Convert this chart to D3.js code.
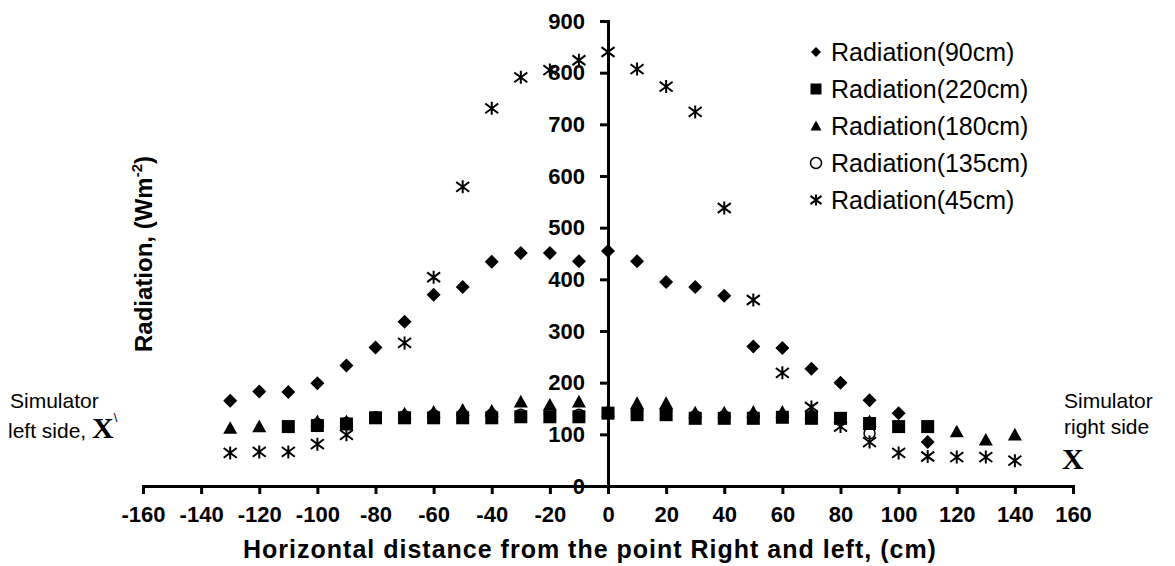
<!DOCTYPE html>
<html>
<head>
<meta charset="utf-8">
<script src="https://cdn.jsdelivr.net/npm/d3@7"></script>
<style>
  body { margin: 0; background: #fff; }
  svg { display: block; font-family: Arial, "Liberation Sans", sans-serif; }
  .axis path, .axis line { stroke: #000; stroke-width: 3; }
  .axis text { font-size: 22px; font-weight: bold; fill: #000; }
</style>
</head>
<body>
<svg id="chart" width="1175" height="566"></svg>
<script>
// distances (cm) and radiation readings (W/m2) per sensor height
const dist90 = [-130, -120, -110, -100, -90, -80, -70, -60, -50, -40, -30, -20, -10, 0, 10, 20, 30, 40, 50, 60, 70, 80, 90, 100, 110];
const rad90 = [165, 183, 182, 199, 233, 268, 318, 370, 385, 434, 451, 451, 435, 455, 435, 395, 385, 368, 270, 267, 227, 200, 166, 141, 85];

const dist220 = [-110, -100, -90, -80, -70, -60, -50, -40, -30, -20, -10, 0, 10, 20, 30, 40, 50, 60, 70, 80, 90, 100, 110];
const rad220 = [115, 117, 120, 132, 132, 132, 132, 132, 134, 134, 134, 141, 138, 138, 131, 131, 131, 133, 131, 131, 121, 115, 115];

const dist180 = [-130, -120, -100, -90, -70, -60, -50, -40, -30, -20, -10, 0, 10, 20, 30, 40, 50, 60, 70, 90, 120, 130, 140];
const rad180 = [112, 115, 125, 125, 140, 143, 147, 145, 163, 157, 163, 145, 160, 160, 142, 142, 143, 143, 140, 125, 105, 89, 99];

const dist135 = [-100, -90, -80, -70, -60, -50, -40, -30, -20, -10, 0, 10, 20, 30, 40, 50, 60, 70, 80, 90];
const rad135 = [120, 122, 133, 135, 137, 138, 138, 138, 140, 138, 142, 145, 145, 135, 135, 135, 135, 135, 128, 102];

const dist45 = [-130, -120, -110, -100, -90, -70, -60, -50, -40, -30, -20, -10, 0, 10, 20, 30, 40, 50, 60, 70, 80, 90, 100, 110, 120, 130, 140];
const rad45 = [64, 66, 66, 81, 99, 277, 404, 579, 731, 791, 805, 824, 840, 807, 773, 724, 538, 360, 219, 153, 115, 85, 64, 57, 56, 56, 49];

const seriesNames = ["Radiation(90cm)", "Radiation(220cm)", "Radiation(180cm)", "Radiation(135cm)", "Radiation(45cm)"];
const seriesMarks = ["diamond", "square", "triangle", "circle", "star"];
const seriesX = [dist90, dist220, dist180, dist135, dist45];
const seriesY = [rad90, rad220, rad180, rad135, rad45];

const xTicks = [-160, -140, -120, -100, -80, -60, -40, -20, 0, 20, 40, 60, 80, 100, 120, 140, 160];
const yTicks = [0, 100, 200, 300, 400, 500, 600, 700, 800, 900];

const svg = d3.select("#chart");

const x = d3.scaleLinear().domain([-160, 160]).range([143, 1073]);
const y = d3.scaleLinear().domain([0, 900]).range([486, 21]);

// marker outline centred on 0,0
function markerPath(type, r) {
  if (type === "diamond") return `M0,${-r}L${r},0L0,${r}L${-r},0Z`;
  if (type === "square") return `M${-r},${-r}H${r}V${r}H${-r}Z`;
  if (type === "triangle") return `M0,${-r}L${r},${r * 0.8}H${-r}Z`;
  if (type === "circle") return d3.arc()({innerRadius: 0, outerRadius: r, startAngle: 0, endAngle: 2 * Math.PI});
  // excel style star: vertical bar + x
  return `M0,${-r}V${r}M${-r},${-r * 0.75}L${r},${r * 0.75}M${r},${-r * 0.75}L${-r},${r * 0.75}`;
}
const markerSize = { diamond: 7, square: 6.5, triangle: 7, circle: 5.5, star: 6.5 };

function styleMark(sel, type) {
  if (type === "circle") {
    sel.attr("fill", "none").attr("stroke", "#000").attr("stroke-width", 1.5);
  } else if (type === "star") {
    sel.attr("fill", "none").attr("stroke", "#000").attr("stroke-width", 2);
  } else {
    sel.attr("fill", "#000").attr("stroke", "none");
  }
}

// axes through the origin
svg.append("g")
  .attr("class", "axis")
  .attr("transform", `translate(0,${y(0)})`)
  .call(d3.axisBottom(x).tickValues(xTicks).tickSize(8).tickPadding(12).tickFormat(d => String(d)));

svg.append("g")
  .attr("class", "axis")
  .attr("transform", `translate(${x(0)},0)`)
  .call(d3.axisLeft(y).tickValues(yTicks).tickSize(8).tickPadding(15));

// points
seriesMarks.forEach((type, i) => {
  const pts = seriesX[i].map((d, j) => [d, seriesY[i][j]]);
  svg.append("g")
    .selectAll("path")
    .data(pts)
    .enter()
    .append("path")
    .attr("d", markerPath(type, markerSize[type]))
    .attr("transform", d => `translate(${x(d[0])},${y(d[1])})`)
    .call(styleMark, type);
});

// legend
const legend = svg.append("g").attr("transform", "translate(816,52)");
seriesNames.forEach((name, i) => {
  const row = legend.append("g").attr("transform", `translate(0,${i * 37})`);
  const type = seriesMarks[i];
  row.append("path")
    .attr("d", markerPath(type, type === "diamond" ? 5 : 5.5))
    .call(styleMark, type);
  row.append("text")
    .attr("x", 15)
    .attr("y", 9)
    .attr("font-size", 25)
    .text(name);
});

// axis titles
svg.append("text")
  .attr("x", 590)
  .attr("y", 558)
  .attr("text-anchor", "middle")
  .attr("font-size", 25)
  .attr("font-weight", "bold")
  .attr("letter-spacing", 1)
  .text("Horizontal distance from the point Right and left, (cm)");

const yTitle = svg.append("text")
  .attr("transform", "translate(152,254) rotate(-90)")
  .attr("text-anchor", "middle")
  .attr("font-size", 24)
  .attr("font-weight", "bold");
yTitle.append("tspan").text("Radiation, (Wm");
yTitle.append("tspan").attr("font-size", 15).attr("dy", -10).text("-2");
yTitle.append("tspan").attr("dy", 10).text(")");

// simulator side notes
svg.append("text").attr("x", 10).attr("y", 408).attr("font-size", 21).text("Simulator");
const leftNote = svg.append("text").attr("x", 8).attr("y", 438).attr("font-size", 21);
leftNote.append("tspan").text("left side, ");
leftNote.append("tspan").attr("font-family", "'Liberation Serif', 'Times New Roman', serif")
  .attr("font-weight", "bold").attr("font-size", 30).text("X");
leftNote.append("tspan").attr("font-size", 13).attr("dy", -16).text("\\");

svg.append("text").attr("x", 1064).attr("y", 408).attr("font-size", 21).text("Simulator");
svg.append("text").attr("x", 1064).attr("y", 434).attr("font-size", 21).text("right side");
svg.append("text").attr("x", 1062).attr("y", 469)
  .attr("font-family", "'Liberation Serif', 'Times New Roman', serif")
  .attr("font-weight", "bold").attr("font-size", 30).text("X");
</script>
</body>
</html>
